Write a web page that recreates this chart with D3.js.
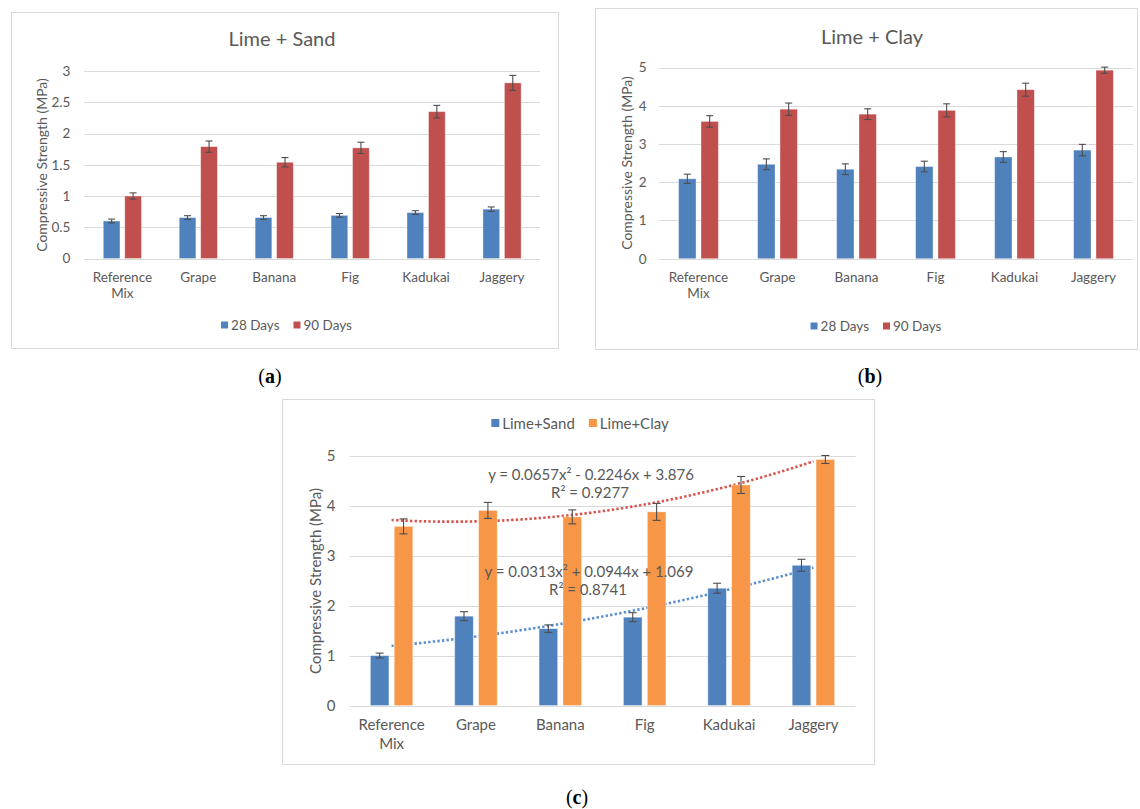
<!DOCTYPE html>
<html>
<head>
<meta charset="utf-8">
<script src="https://cdn.jsdelivr.net/npm/d3@7"></script>
<style>
  html, body { margin: 0; padding: 0; background: #fff; }
  svg { display: block; }
  text { font-family: Lato, "Open Sans", sans-serif; fill: #595959; }
</style>
</head>
<body>
<svg id="fig" width="1140" height="809"></svg>
<script>
// Additive mixes
const categories = ["Reference Mix", "Grape", "Banana", "Fig", "Kadukai", "Jaggery"];

// Lime + Sand, compressive strength (MPa) with error
const sand28 = [0.60, 0.655, 0.655, 0.69, 0.735, 0.79];
const sand28Err = [0.03, 0.03, 0.03, 0.03, 0.03, 0.035];
const sand90 = [1.00, 1.79, 1.54, 1.77, 2.35, 2.81];
const sand90Err = [0.05, 0.09, 0.075, 0.09, 0.10, 0.12];

// Lime + Clay, compressive strength (MPa) with error
const clay28 = [2.09, 2.47, 2.34, 2.41, 2.66, 2.84];
const clay28Err = [0.12, 0.14, 0.14, 0.14, 0.14, 0.15];
const clay90 = [3.59, 3.91, 3.78, 3.88, 4.42, 4.93];
const clay90Err = [0.15, 0.16, 0.14, 0.17, 0.17, 0.08];

// Tick values
const sandTicks = [0, 0.5, 1, 1.5, 2, 2.5, 3];
const clayTicks = [0, 1, 2, 3, 4, 5];

// Second-order polynomial trend coefficients [a, b, c] for y = a x^2 + b x + c (x = 1..6)
const sandTrend = [0.0313, 0.0944, 1.069];
const clayTrend = [0.0657, -0.2246, 3.876];
const sandTrendLabel = ["y = 0.0313x² + 0.0944x + 1.069", "R² = 0.8741"];
const clayTrendLabel = ["y = 0.0657x² - 0.2246x + 3.876", "R² = 0.9277"];

const BLUE = "#4F81BD", RED = "#C0504D", ORANGE = "#F79646";
const GRID = "#D9D9D9";

const svg = d3.select("#fig");
svg.append("rect").attr("width", 1140).attr("height", 809).attr("fill", "#fff");

function drawPanel(cfg) {
  const g = svg.append("g");
  const [bx0, by0, bx1, by1] = cfg.box;
  g.append("rect")
    .attr("x", bx0 + 0.5).attr("y", by0 + 0.5)
    .attr("width", bx1 - bx0).attr("height", by1 - by0)
    .attr("fill", "#fff").attr("stroke", GRID).attr("stroke-width", 1);

  const x = d3.scaleBand().domain(categories).range([cfg.plot.x0, cfg.plot.x1]);
  const y = d3.scaleLinear().domain([0, d3.max(cfg.ticks)]).range([cfg.plot.yb, cfg.plot.yt]);

  // horizontal gridlines
  g.append("g").selectAll("line").data(cfg.ticks).join("line")
    .attr("x1", cfg.plot.x0).attr("x2", cfg.plot.x1)
    .attr("y1", d => Math.round(y(d)) + 0.5).attr("y2", d => Math.round(y(d)) + 0.5)
    .attr("stroke", GRID).attr("stroke-width", 1);

  // polynomial trendlines (drawn beneath the bars)
  if (cfg.trends) {
    const xi = d3.scaleLinear().domain([1, categories.length])
      .range([x(categories[0]) + x.bandwidth() / 2, x(categories[categories.length - 1]) + x.bandwidth() / 2]);
    cfg.trends.forEach(t => {
      const pts = d3.range(1, 6.0001, 0.05).map(v => [v, t.coef[0] * v * v + t.coef[1] * v + t.coef[2]]);
      g.append("path")
        .attr("d", d3.line().x(d => xi(d[0])).y(d => y(d[1])).curve(d3.curveBasis)(pts))
        .attr("fill", "none").attr("stroke", t.color).attr("stroke-width", 2.6)
        .attr("stroke-dasharray", "2.4 2.2");
    });
  }

  // bars
  const bw = x.bandwidth() * 0.22;
  const gap = x.bandwidth() * 0.063;
  const pairW = bw * cfg.series.length + gap * (cfg.series.length - 1);
  const barX = (c, si) => x(c) + (x.bandwidth() - pairW) / 2 + si * (bw + gap);

  cfg.series.forEach((s, si) => {
    const rows = categories.map((c, i) => ({ c, v: s.values[i], e: s.errors[i] }));
    g.append("g").selectAll("rect").data(rows).join("rect")
      .attr("x", d => barX(d.c, si)).attr("width", bw)
      .attr("y", d => y(d.v)).attr("height", d => y(0) - y(d.v))
      .attr("fill", s.color).attr("stroke", "rgba(255,255,255,0.45)").attr("stroke-width", 0.8);

    const eb = g.append("g").attr("stroke", "#4d4d4d").attr("stroke-width", 1.1);
    rows.forEach(d => {
      const cx = barX(d.c, si) + bw / 2;
      const cap = cfg.cap;
      eb.append("line").attr("x1", cx).attr("x2", cx).attr("y1", y(d.v + d.e)).attr("y2", y(d.v - d.e));
      eb.append("line").attr("x1", cx - cap / 2).attr("x2", cx + cap / 2).attr("y1", y(d.v + d.e)).attr("y2", y(d.v + d.e));
      eb.append("line").attr("x1", cx - cap / 2).attr("x2", cx + cap / 2).attr("y1", y(d.v - d.e)).attr("y2", y(d.v - d.e));
    });
  });

  // y axis labels
  const ya = g.append("g").attr("transform", `translate(${cfg.plot.x0},0)`)
    .call(d3.axisLeft(y).tickValues(cfg.ticks).tickFormat(d3.format("~g")).tickSize(0).tickPadding(cfg.tickPad));
  ya.select(".domain").remove();
  ya.selectAll("text").style("font-family", "Lato, sans-serif").style("font-size", cfg.fs + "px").attr("fill", "#595959");

  // category labels
  const xa = g.append("g").attr("transform", `translate(0,${cfg.plot.yb})`)
    .call(d3.axisBottom(x).tickSize(0).tickPadding(0));
  xa.select(".domain").remove();
  xa.selectAll("text").each(function (c) {
    const t = d3.select(this).text(null).attr("y", 0).attr("dy", null)
      .style("font-family", "Lato, sans-serif").style("font-size", cfg.fs + "px").attr("fill", "#595959");
    c.split(" ").forEach((w, i) => {
      t.append("tspan").attr("x", 0).attr("y", cfg.catY[i] - cfg.plot.yb).attr("dominant-baseline", "central").text(w);
    });
  });

  // y axis title
  g.append("text")
    .attr("transform", `translate(${cfg.yTitle[0]},${cfg.yTitle[1]}) rotate(-90)`)
    .attr("text-anchor", "middle").attr("dominant-baseline", "central")
    .style("font-size", cfg.fsTitleY + "px")
    .text("Compressive Strength (MPa)");

  // chart title
  if (cfg.title) {
    g.append("text").attr("x", cfg.title.x).attr("y", cfg.title.y)
      .attr("text-anchor", "middle").attr("dominant-baseline", "central")
      .style("font-size", "20px").text(cfg.title.text);
  }

  // legend
  const lg = g.append("g");
  let lx = 0;
  cfg.series.forEach((s, si) => {
    const it = lg.append("g").attr("transform", `translate(${lx},0)`);
    it.append("rect").attr("x", 0).attr("y", -cfg.sw / 2).attr("width", cfg.sw).attr("height", cfg.sw).attr("fill", s.color);
    const tx = it.append("text").attr("x", cfg.sw + 3).attr("y", 0).attr("dominant-baseline", "central")
      .style("font-size", cfg.fs + "px").text(s.name);
    lx += cfg.sw + 3 + tx.node().getComputedTextLength() + 14;
  });
  const lw = lx - 14;
  lg.attr("transform", `translate(${cfg.legend[0] - lw / 2},${cfg.legend[1]})`);

  // trendline equations
  if (cfg.trends) {
    cfg.trends.forEach(t => {
      t.label.forEach((line, i) => {
        g.append("text").attr("x", t.pos[i][0]).attr("y", t.pos[i][1])
          .attr("text-anchor", "middle").attr("dominant-baseline", "central")
          .style("font-size", cfg.fs + "px").text(line);
      });
    });
  }
}

// (a) Lime + Sand
drawPanel({
  box: [11, 12, 558, 348],
  plot: { x0: 84.4, x1: 540, yb: 258.5, yt: 71 },
  ticks: sandTicks, tickPad: 14, fs: 13.5, fsTitleY: 14, cap: 7, sw: 7,
  catY: [277, 293], yTitle: [41, 165], legend: [286.5, 325],
  title: { x: 282, y: 38, text: "Lime + Sand" },
  series: [
    { name: "28 Days", values: sand28, errors: sand28Err, color: BLUE },
    { name: "90 Days", values: sand90, errors: sand90Err, color: RED }
  ]
});

// (b) Lime + Clay
drawPanel({
  box: [595, 8, 1137, 349],
  plot: { x0: 659, x1: 1133, yb: 258.7, yt: 67.5 },
  ticks: clayTicks, tickPad: 12.5, fs: 13.5, fsTitleY: 14, cap: 7, sw: 7,
  catY: [277, 293], yTitle: [626, 163], legend: [876, 326],
  title: { x: 872, y: 36, text: "Lime + Clay" },
  series: [
    { name: "28 Days", values: clay28, errors: clay28Err, color: BLUE },
    { name: "90 Days", values: clay90, errors: clay90Err, color: RED }
  ]
});

// (c) 90-day comparison with polynomial trends
drawPanel({
  box: [282, 399, 874, 764],
  plot: { x0: 349.4, x1: 855.6, yb: 705.5, yt: 456 },
  ticks: clayTicks, tickPad: 14, fs: 15, fsTitleY: 15, cap: 8, sw: 8,
  catY: [724, 743], yTitle: [315, 581], legend: [580, 423],
  series: [
    { name: "Lime+Sand", values: sand90, errors: sand90Err, color: BLUE },
    { name: "Lime+Clay", values: clay90, errors: clay90Err, color: ORANGE }
  ],
  trends: [
    { coef: clayTrend, color: "#D9544F", label: clayTrendLabel, pos: [[591, 474], [590, 492]] },
    { coef: sandTrend, color: "#5A8FD0", label: sandTrendLabel, pos: [[589, 571], [588, 589]] }
  ]
});

// sub-figure letters
const letters = [["a", 270, 376], ["b", 870, 376], ["c", 577, 797]];
letters.forEach(([l, lx, ly]) => {
  const t = svg.append("text").attr("x", lx).attr("y", ly)
    .attr("text-anchor", "middle").attr("dominant-baseline", "central")
    .style("font-family", '"Liberation Serif", "DejaVu Serif", serif').style("font-size", "20px")
    .attr("fill", "#000").style("fill", "#000");
  t.append("tspan").text("(");
  t.append("tspan").style("font-weight", "bold").text(l);
  t.append("tspan").text(")");
});
</script>
</body>
</html>
